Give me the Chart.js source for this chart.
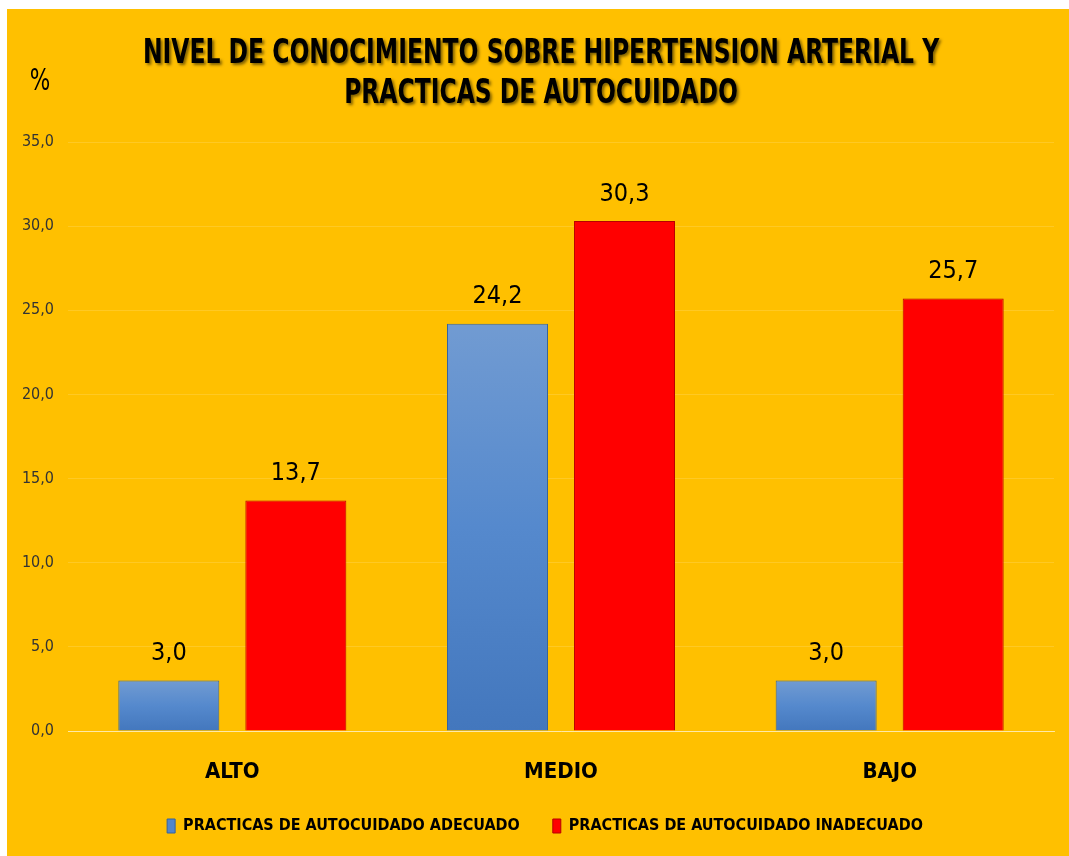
<!DOCTYPE html>
<html>
<head>
<meta charset="utf-8">
<script src="https://cdn.jsdelivr.net/npm/chart.js@4.4.1/dist/chart.umd.min.js"></script>
<style>
  html, body { margin: 0; padding: 0; background: #ffffff; }
  #wrap { position: absolute; left: 7px; top: 9px; width: 1062px; height: 847px; background: #ffc000; }
</style>
</head>
<body>
<div id="wrap"><canvas id="chart"></canvas></div>
<script>
const categories = ["ALTO", "MEDIO", "BAJO"];
const adecuado = [3.0, 24.2, 3.0];
const inadecuado = [13.7, 30.3, 25.7];
const seriesNames = ["PRACTICAS DE AUTOCUIDADO ADECUADO", "PRACTICAS DE AUTOCUIDADO INADECUADO"];
const titleLines = ["NIVEL DE CONOCIMIENTO SOBRE HIPERTENSION ARTERIAL Y", "PRACTICAS DE AUTOCUIDADO"];

const FONT = "'DejaVu Sans Condensed', 'DejaVu Sans', sans-serif";
const fmt = v => v.toFixed(1).replace(".", ",");

// blue bars fade from light at the top to darker at the base
const blueFill = (context) => {
  const chart = context.chart;
  const y = chart.scales && chart.scales.y;
  if (!chart.chartArea || !y || context.dataIndex === undefined) return "#5286cb";
  const top = y.getPixelForValue(context.raw);
  const base = y.getPixelForValue(0);
  const g = chart.ctx.createLinearGradient(0, top, 0, base);
  g.addColorStop(0, "#719bd2");
  g.addColorStop(0.5, "#5589cd");
  g.addColorStop(1, "#4377bd");
  return g;
};

// title, % label and value labels drawn on the canvas
const decorations = {
  id: "decorations",
  afterLayout(chart) {
    // legend sits a bit right of the canvas centre in the original
    chart.legend.left += 29;
  },
  afterDraw(chart) {
    const ctx = chart.ctx;
    ctx.save();
    ctx.textAlign = "center";
    ctx.textBaseline = "middle";
    ctx.font = "bold 33px " + FONT;
    ctx.shadowColor = "rgba(0,0,0,0.5)";
    ctx.shadowOffsetX = 2;
    ctx.shadowOffsetY = 2;
    ctx.shadowBlur = 3;
    ctx.fillStyle = "#000000";
    // squeeze horizontally to get the narrow look of the original
    ctx.translate(534, 0);
    ctx.scale(0.79, 1);
    ctx.fillText(titleLines[0], 0, 45);
    ctx.fillText(titleLines[1], 0, 85);
    ctx.restore();

    ctx.save();
    ctx.textAlign = "center";
    ctx.textBaseline = "middle";
    ctx.fillStyle = "#000000";
    ctx.save();
    ctx.translate(33, 73);
    ctx.scale(0.8, 1);
    ctx.font = "30px " + FONT;
    ctx.fillText("%", 0, 0);
    ctx.restore();
    ctx.font = "25px " + FONT;
    chart.data.datasets.forEach((ds, i) => {
      chart.getDatasetMeta(i).data.forEach((bar, j) => {
        ctx.fillText(fmt(ds.data[j]), bar.x, bar.y - 27);
      });
    });
    ctx.restore();
  }
};

new Chart(document.getElementById("chart"), {
  type: "bar",
  data: {
    labels: categories,
    datasets: [
      {
        label: seriesNames[0],
        data: adecuado,
        backgroundColor: blueFill,
        borderColor: "#35629e",
        borderWidth: 1,
        barPercentage: 0.795,
        categoryPercentage: 0.773
      },
      {
        label: seriesNames[1],
        data: inadecuado,
        backgroundColor: "#ff0000",
        borderColor: "#b80000",
        borderWidth: 1,
        barPercentage: 0.795,
        categoryPercentage: 0.773
      }
    ]
  },
  options: {
    responsive: true,
    maintainAspectRatio: false,
    animation: false,
    layout: { padding: { top: 133, right: 15, left: 0, bottom: 12 } },
    plugins: {
      title: { display: false },
      tooltip: { enabled: false },
      legend: {
        position: "bottom",
        labels: {
          color: "#000000",
          font: { family: FONT, size: 16, weight: "bold" },
          boxWidth: 8,
          boxHeight: 14,
          padding: 33,
          generateLabels(chart) {
            const items = Chart.defaults.plugins.legend.labels.generateLabels(chart);
            items[0].fillStyle = "#5286cb";
            return items;
          }
        }
      }
    },
    scales: {
      x: {
        afterFit(scale) { scale.height = 54; },
        grid: { display: false },
        border: { color: "rgba(255,255,255,0.6)" },
        ticks: {
          color: "#000000",
          padding: 20,
          font: { family: FONT, size: 22, weight: "bold" }
        }
      },
      y: {
        min: 0,
        max: 35,
        afterFit(scale) { scale.width = 61; },
        border: { display: false },
        grid: { color: "rgba(255,255,255,0.14)", drawTicks: false },
        ticks: {
          stepSize: 5,
          padding: 14,
          color: "#333333",
          font: { family: FONT, size: 16 },
          callback: v => fmt(v)
        }
      }
    }
  },
  plugins: [decorations]
});
</script>
</body>
</html>
